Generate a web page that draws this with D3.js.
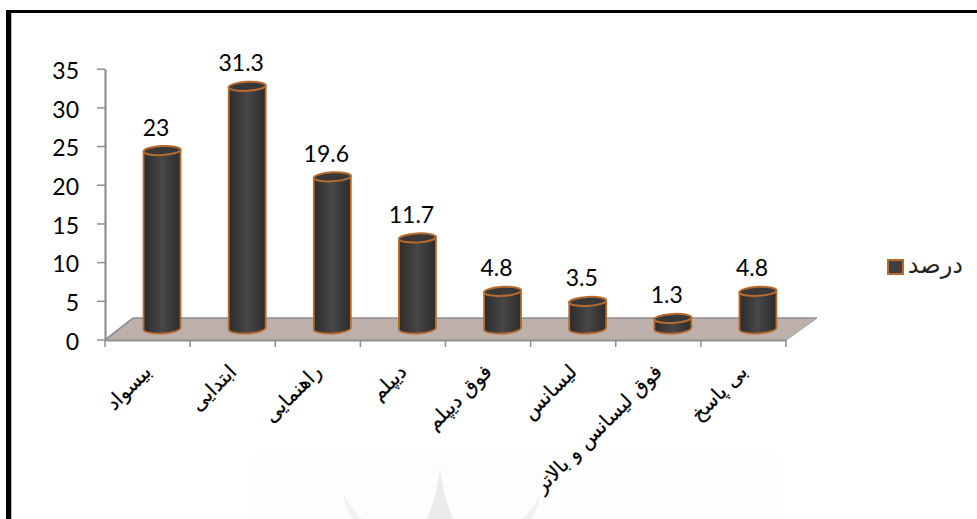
<!DOCTYPE html>
<html><head><meta charset="utf-8">
<script src="https://cdnjs.cloudflare.com/ajax/libs/d3/7.8.5/d3.min.js"></script>
<style>html,body{margin:0;padding:0;background:#fff}svg{display:block}</style>
</head><body><svg id="c" width="977" height="519"></svg>
<script>
const categories = ["بیسواد","ابتدایی","راهنمایی","دیپلم","فوق دیپلم","لیسانس","فوق لیسانس و بالاتر","بی پاسخ"];
const values = [23,31.3,19.6,11.7,4.8,3.5,1.3,4.8];
const yTicks = [0,5,10,15,20,25,30,35];
const seriesName = "درصد";

const svg = d3.select("#c");
const latin = "Lato, 'Open Sans', sans-serif";
const arabic = "'DejaVu Sans', sans-serif";
const axisCol = "#8f8f8f", edge = "#b96b2d";

// watermark
svg.append("rect").attr("x",250).attr("y",455).attr("width",530).attr("height",64).attr("fill","#fdfdfd");
const wm = svg.append("g");
wm.append("path").attr("d","M440 468 C443 490 447 508 454 519 L426 519 C433 508 437 490 440 468Z").attr("fill","#ebebeb");
wm.append("path").attr("d","M343 492 C348 503 354 512 362 519 L352 519 C348 511 345 502 343 492Z").attr("fill","#f1f1f1");
wm.append("path").attr("d","M540 494 C535 505 529 513 522 519 L532 519 C536 511 539 503 540 494Z").attr("fill","#f1f1f1");

// frame
svg.append("rect").attr("x",6).attr("y",10).attr("width",5).attr("height",509).attr("fill","#000");
svg.append("rect").attr("x",6).attr("y",10).attr("width",971).attr("height",3).attr("fill","#000");
svg.append("rect").attr("x",11).attr("y",13).attr("width",1).attr("height",506).attr("fill","#bbb");

const x = d3.scaleBand().domain(categories).range([105,786]);
const y = d3.scaleLinear().domain([0,35]).range([339.5,68.7]);
const depth = 11, rx = 18.5, ry = 5, shift = 14.5;

// floor
svg.append("path").attr("d","M105 340 L133 318 L817 318 L786 340 Z").attr("fill","#bdb0ab");
svg.append("path").attr("d","M105 340 L133 318 L817 318").attr("fill","none").attr("stroke",axisCol).attr("stroke-width",1.6);
svg.append("path").attr("d","M817 318 L786 340").attr("fill","none").attr("stroke","#a9a9a9").attr("stroke-width",1.2);

// axes
const gy = svg.append("g").attr("transform","translate(105,0)")
  .call(d3.axisLeft(y).tickValues(yTicks).tickSize(8).tickSizeOuter(0).tickPadding(18));
const gx = svg.append("g").attr("transform","translate(0,340)")
  .call(d3.axisBottom(x).tickValues([]).tickSize(0).tickSizeOuter(0));
const bounds = categories.map(c=>x(c)).concat([786]);
gx.selectAll(".b").data(bounds).join("line").attr("class","b")
  .attr("x1",d=>d).attr("x2",d=>d).attr("y1",0).attr("y2",7).attr("stroke",axisCol).attr("stroke-width",1.5);
[gy,gx].forEach(g=>{
  g.selectAll(".domain").attr("stroke",axisCol).attr("stroke-width",2.2);
  g.selectAll(".tick line").attr("stroke",axisCol).attr("stroke-width",1.5);
});
gy.selectAll("text").attr("font-family",latin).attr("font-size",23).attr("fill","#000").attr("dy","0.42em");

// category labels
svg.append("g").selectAll("text").data(categories).join("text")
  .attr("transform",d=>`translate(${x(d)+x.bandwidth()/2},368) rotate(-45)`)
  .attr("direction","rtl").attr("text-anchor","start").attr("dominant-baseline","central")
  .attr("font-family",arabic).attr("font-size",20).attr("fill","#000")
  .attr("stroke","#000").attr("stroke-width",0.2).text(d=>d);

// cylinders
const defs = svg.append("defs");
const g = defs.append("linearGradient").attr("id","cyl");
[[0,"#2c2c2c"],[0.5,"#474747"],[1,"#2c2c2c"]].forEach(s=>g.append("stop").attr("offset",s[0]).attr("stop-color",s[1]));
const bars = svg.append("g").selectAll("g").data(categories.map((c,i)=>({c,v:values[i]}))).join("g");
const cx = d=>x(d.c)+x.bandwidth()/2+shift;
bars.append("path").attr("fill","url(#cyl)").attr("stroke",edge).attr("stroke-width",1.8)
  .attr("d",d=>{const c=cx(d),t=y(d.v)-depth,b=y(0)-depth;
    return `M${c-rx} ${t+1} L${c-rx} ${b+1} A${rx} ${ry} -3 0 0 ${c+rx} ${b-1} L${c+rx} ${t-1} Z`;});
bars.append("ellipse").attr("fill","#383838").attr("stroke",edge).attr("stroke-width",2)
  .attr("cx",cx).attr("cy",d=>y(d.v)-depth).attr("rx",rx).attr("ry",ry-0.5)
  .attr("transform",d=>`rotate(-3 ${cx(d)} ${y(d.v)-depth})`);
bars.append("text").attr("x",d=>cx(d)-6).attr("y",d=>y(d.v)-depth-15)
  .attr("text-anchor","middle").attr("font-family",latin).attr("font-size",23).attr("fill","#000").text(d=>d.v);

// legend
svg.append("rect").attr("x",888).attr("y",260).attr("width",15).attr("height",14)
  .attr("fill","#404040").attr("stroke",edge).attr("stroke-width",2);
svg.append("text").attr("x",963).attr("y",273).attr("direction","rtl").attr("text-anchor","start")
  .attr("font-family",arabic).attr("font-size",24).attr("fill","#222").text(seriesName);
</script></body></html>
